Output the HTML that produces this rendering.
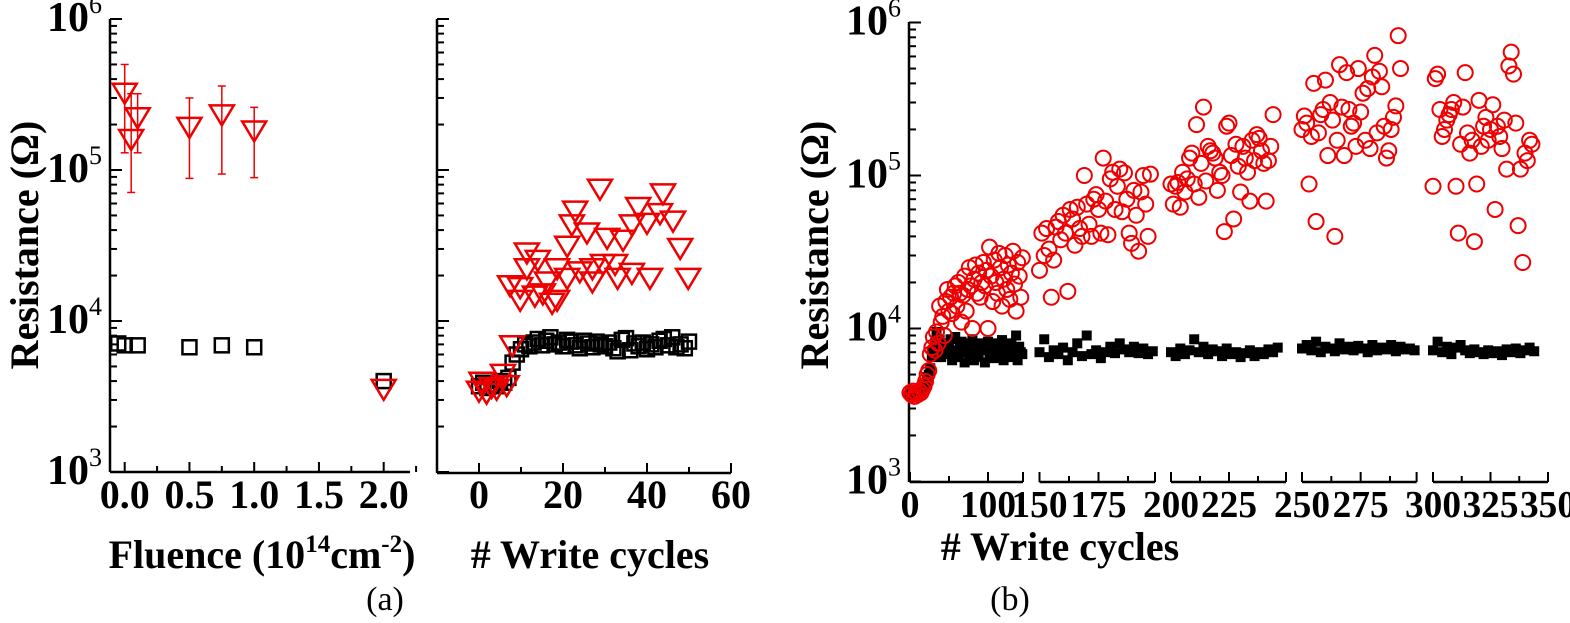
<!DOCTYPE html>
<html><head><meta charset="utf-8">
<style>
html,body{margin:0;padding:0;background:#fff;}
svg, svg text{font-family:"Liberation Serif","DejaVu Serif",serif;}
</style></head>
<body>
<svg id="fig" width="1570" height="618" viewBox="0 0 1570 618" xmlns="http://www.w3.org/2000/svg" font-family="Liberation Serif, serif">
<g id="layer" font-family="Liberation Serif, serif"></g>
</svg>
<script>
// ---- Panel (a) left: fluence data ----
const fluSqX = [-0.05, 0.0, 0.1, 0.5, 0.75, 1.0, 2.0];
const fluSqY = [7100, 6900, 6900, 6700, 6900, 6700, 4000];
const fluTriX = [0.0, 0.05, 0.1, 0.5, 0.75, 1.0, 2.0];
const fluTriY = [320000, 158000, 220000, 190000, 230000, 180000, 3500];
const fluErrHi = [500000, 320000, 320000, 300000, 360000, 260000, 3500];
const fluErrLo = [130000, 71000, 130000, 88000, 94000, 89000, 3500];
const fluTicks = ["0.0", "0.5", "1.0", "1.5", "2.0"];
const fluTickVals = [0, 0.5, 1.0, 1.5, 2.0];

// ---- Panel (a) right: write cycles ----
const aSqVals = [3700,3900,3600,3800,3700,4000,3900,4200,5300,6000,6500,7000,6800,7200,7600,6900,7400,7800,7000,7200,6800,7500,7300,6900,6600,7400,7100,6700,7300,7000,6800,7200,6600,6300,7500,7700,6400,7100,6800,7200,6500,7000,6700,7400,7600,6900,7800,6700,7000,6600,7300];
const aTriX = [28.8,43.8,22.9,37.9,43.1,46.2,22.1,25.7,36.4,40,30.5,34.3,21,47.9,11.4,14,11.4,18.6,24,27,29.5,32.4,36.4,40.7,49.8,33,27,21,7.4,9.8,16.2,13.3,9.8,18.6,17.4,15.2,7.9,5.7,0.6,1.8,4.2,6.6,0,3];
const aTriY = [74000,69000,53000,56000,51000,45500,43000,38000,43000,44000,35000,34000,31000,30000,28000,25000,22000,22000,21000,22000,23500,23500,20500,19000,19000,19000,18000,19000,17000,16500,18000,14500,13600,13600,13000,15000,6800,4400,3900,3300,3500,3700,3400,3600];
const aTicks = ["0","20","40","60"];
const aTickVals = [0,20,40,60];

// ---- Panel (b) ----
const bCircX = [0,2,4,6,8,10,12,14,16,18,20,22,24,26,28,
30,32,34,36,38,40,42,44,46,48,50,52,54,56,58,60,62,64,66,68,70,72,74,76,78,80,
82,84,86,88,90,92,94,96,98,100,102,104,106,108,110,112,114,116,118,120,122,124,126,128,130,132,134,136,138,140,142,144,
150,151,152,153,154,155,156,157,158,159,160,161,162,163,164,165,166,167,168,169,170,171,172,173,174,175,176,177,178,179,180,181,182,183,184,185,186,187,188,189,190,191,192,193,194,195,196,197,
200,201,202,203,204,205,206,207,208,209,210,211,212,213,214,215,216,217,218,219,220,221,222,223,224,225,226,227,228,229,230,231,232,233,234,235,236,237,238,239,240,241,242,243,244,
250,251,252,253,254,255,256,257,258,259,260,261,262,263,264,265,266,267,268,269,270,271,272,273,274,275,276,277,278,279,280,281,282,283,284,285,286,287,288,289,290,291,292,
300,301,302,303,304,305,306,307,308,309,310,311,312,313,314,315,316,317,318,319,320,321,322,323,324,325,326,327,328,329,330,331,332,333,334,335,336,337,338,339,340,341,342,343];
const bCircY = [3800,3700,3900,3600,3800,3700,3900,3800,4000,4200,4500,5000,5300,6800,7500,
8800,7200,9500,8000,14000,11000,12000,9000,15000,18000,13000,16000,12500,17000,19000,14000,20000,17000,11000,16500,22000,13000,18000,25000,19000,10000,
21000,26000,17000,23000,16000,20000,27000,19000,24000,10000,34000,22000,15000,28000,20000,17000,31000,25000,14000,21000,30000,18000,26000,15500,23000,32000,19500,13000,27000,22000,16000,29000,
24000,42000,30000,45000,33000,16000,28000,46000,50000,38000,55000,42000,17500,60000,52000,35000,62000,45000,40000,100000,65000,48000,40000,70000,75000,60000,42000,130000,68000,41000,95000,105000,60000,85000,110000,58000,104000,70000,42000,36000,80000,55000,32000,78000,100000,65000,40000,102000,
88000,65000,85000,90000,62000,105000,78000,95000,130000,140000,88000,215000,72000,120000,280000,92000,155000,145000,140000,130000,80000,105000,100000,43000,210000,220000,135000,52000,160000,115000,78000,155000,130000,105000,68000,170000,125000,185000,175000,145000,120000,68000,125000,155000,250000,
200000,245000,220000,88000,180000,400000,50000,190000,250000,270000,420000,135000,300000,230000,40000,170000,530000,280000,135000,470000,270000,210000,220000,155000,500000,260000,345000,170000,370000,150000,440000,610000,190000,480000,380000,210000,130000,145000,200000,240000,285000,820000,500000,
85000,430000,460000,270000,180000,200000,230000,250000,270000,300000,85000,42000,160000,280000,470000,190000,140000,170000,37000,88000,310000,155000,210000,240000,170000,200000,290000,60000,210000,180000,150000,230000,110000,520000,640000,460000,220000,47000,110000,27000,140000,125000,170000,160000];
const bSqStart = [0,150,200,250,300];
const bSqVals = [
[3800,3700,3900,3800,3700,3800,3900,3800,4000,4200,4400,4800,5000,5500,6500,7200,8000,9500,7000,8500,6500,7800,8000,7000,6800,7500,8500,6200,7000,8800,7200,6500,7800,8200,7000,6000,7500,8000,6800,7200,8500,6200,7800,7000,6500,8000,7200,7600,6000,7400,8200,6800,7000,7800,6400,8000,7200,6600,7500,8400,6200,7000,7800,6800,7300,8000,6500,7200,9000,6200,7600,7000,6800],
[7000,8500,6500,7200,6800,7500,6200,7000,8000,6600,9000,6800,7200,6400,7000,7600,6900,8000,7300,7000,7600,6900,7400,6800,7100],
[7000,6600,7400,6800,7200,8500,7000,7600,6800,7300,7100,6600,7400,6800,7000,6500,6900,7200,6600,7000,6800,7300,7000,7500],
[7400,7800,7200,8200,7000,7600,7400,7100,8000,7300,7600,7200,7700,7400,7000,7800,7200,7500,7300,7800,7100,7600,7300,7400,7200],
[7200,8200,7000,7600,6800,7500,7800,7200,6900,7300,7000,6800,7200,6900,7100,6700,7300,7000,7400,6900,7200,7500,7100]];
const bTickLabels = ["0","100","150","175","200","225","250","275","300","325","350"];
const bTickVals = [0,100,150,175,200,225,250,275,300,325,350];

const NS = "http://www.w3.org/2000/svg";
const FONT = '"Liberation Serif", "DejaVu Serif", serif';
const layer = document.getElementById('layer');
function mk(tag, attrs, parent, txt){
  const e = document.createElementNS(NS, tag);
  for (const k in attrs) e.setAttribute(k, attrs[k]);
  if (tag === 'text') e.style.fontFamily = FONT;
  if (txt !== undefined) e.textContent = txt;
  (parent||layer).appendChild(e);
  return e;
}
function yA(v){ return 472 - (Math.log10(v) - 3) * 151; }
function yB(v){ return 481.5 - (Math.log10(v) - 3) * 153; }
function xFlu(f){ return 124.7 + f * 129.5; }
function xCyc(c){ return 479 + c * 4.2; }
const segs = [
  {a:0, b:145, x0:910, x1:1023, sc:0.78, majors:[0,100], minors:[50]},
  {a:150, b:199, x0:1039.5, x1:1155, sc:2.36, majors:[150,175], minors:[162.5,187.5]},
  {a:200, b:249, x0:1171, x1:1286, sc:2.32, majors:[200,225], minors:[212.5,237.5]},
  {a:250, b:299, x0:1302, x1:1416.6, sc:2.346, majors:[250,275], minors:[262.5,287.5]},
  {a:300, b:350, x0:1433, x1:1548, sc:2.3, majors:[300,325,350], minors:[312.5,337.5]}
];
function xB(c){
  for (const s of segs){ if (c <= s.b + 0.5) return s.x0 + (c - s.a) * s.sc; }
  return segs[4].x0 + (c - 300) * 2.3;
}

function logYAxis(g, x, yfn, top, bottom, labels){
  mk('line',{x1:x,y1:top,x2:x,y2:bottom,stroke:'#000','stroke-width':2.5},g);
  for (let d=3; d<=6; d++){
    for (let m=1; m<=9; m++){
      if (d===6 && m>1) break;
      const v = m*Math.pow(10,d);
      const y = yfn(v);
      mk('line',{x1:x,y1:y,x2:x+(m===1?12:7),y2:y,stroke:'#000','stroke-width':2},g);
    }
    if (labels){
      const y = yfn(Math.pow(10,d));
      const t = mk('text',{x:x-8,y:y+12,'text-anchor':'end','font-size':42,'font-weight':'bold'},g);
      
      
      mk('tspan',{},t,'10');
      mk('tspan',{dy:-18,'font-size':26,'font-weight':'normal'},t,String(d));
    }
  }
}
function ylabel(g, x, y){
  const t = mk('text',{x:x,y:y,'text-anchor':'middle','font-size':40,'font-weight':'bold',transform:`rotate(-90 ${x} ${y})`},g,'Resistance (Ω)');
  
  
}
function tri(g, cx, cy, color){
  const w=12, h=10;
  return mk('polygon',{points:`${cx-w},${cy-h} ${cx+w},${cy-h} ${cx},${cy+h}`,fill:'none',stroke:color,'stroke-width':2.5},g);
}

// ===== Panel a-left =====
const gA1 = mk('g',{});


logYAxis(gA1, 110, yA, 19, 472, true);
mk('line',{x1:110,y1:472,x2:410,y2:472,stroke:'#000','stroke-width':2.5},gA1);
for (let i=0;i<=9;i++){
  const x = xFlu(i*0.25);
  mk('line',{x1:x,y1:472,x2:x,y2:472-(i%2===0?10:6),stroke:'#000','stroke-width':2},gA1);
}
fluTickVals.forEach((v,i)=>{
  const t = mk('text',{x:xFlu(v),y:508,'text-anchor':'middle','font-size':40,'font-weight':'bold'},gA1,fluTicks[i]);
  
  
});
ylabel(gA1, 38, 245);
{
  const t = mk('text',{x:262,y:568,'text-anchor':'middle','font-size':40,'font-weight':'bold'},gA1);
  
  
  mk('tspan',{},t,'Fluence (10');
  mk('tspan',{dy:-16,'font-size':25},t,'14');
  mk('tspan',{dy:16},t,'cm');
  mk('tspan',{dy:-16,'font-size':25},t,'-2');
  mk('tspan',{dy:16},t,')');
}
fluErrHi.forEach((hi,i)=>{
  const x = xFlu(fluTriX[i]);
  if (hi === fluErrLo[i]) return;
  const eb = mk('g',{stroke:'#e00','stroke-width':1.5},gA1);
  
  
  mk('line',{x1:x,y1:yA(hi),x2:x,y2:yA(fluErrLo[i])},eb);
  mk('line',{x1:x-4,y1:yA(hi),x2:x+4,y2:yA(hi)},eb);
  mk('line',{x1:x-4,y1:yA(fluErrLo[i]),x2:x+4,y2:yA(fluErrLo[i])},eb);
});
fluSqX.forEach((f,i)=>{
  const r = mk('rect',{x:xFlu(f)-7,y:yA(fluSqY[i])-7,width:14,height:14,fill:'none',stroke:'#000','stroke-width':2.5},gA1);
  
  
});
fluTriX.forEach((f,i)=>{
  const p = tri(gA1, xFlu(f), yA(fluTriY[i]), '#e00');
  
  
});

// ===== Panel a-right =====
const gA2 = mk('g',{});


logYAxis(gA2, 437, yA, 19, 473, false);
mk('line',{x1:437,y1:473,x2:731,y2:473,stroke:'#000','stroke-width':2.5},gA2);
for (let c=0;c<=60;c+=10){
  const x = xCyc(c);
  mk('line',{x1:x,y1:473,x2:x,y2:473-(c%20===0?10:6),stroke:'#000','stroke-width':2},gA2);
}
aTickVals.forEach((v,i)=>{
  const t = mk('text',{x:xCyc(v),y:508,'text-anchor':'middle','font-size':40,'font-weight':'bold'},gA2,aTicks[i]);
  
  
});
{
  const t = mk('text',{x:590,y:568,'text-anchor':'middle','font-size':40,'font-weight':'bold'},gA2,'# Write cycles');
  
  
}
aSqVals.forEach((v,i)=>{
  const r = mk('rect',{x:xCyc(i)-7,y:yA(v)-7,width:14,height:14,fill:'none',stroke:'#000','stroke-width':2.5},gA2);
  
  
});
aTriX.forEach((c,i)=>{
  const p = tri(gA2, xCyc(c), yA(aTriY[i]), '#e00');
  
  
});
{
  const t = mk('text',{x:385,y:610,'text-anchor':'middle','font-size':34},layer,'(a)');
  
  
}

// ===== Panel b =====
const gB = mk('g',{});


logYAxis(gB, 909, yB, 22, 482, true);
ylabel(gB, 828, 245);
segs.forEach(s=>{
  mk('line',{x1:s.x0,y1:482,x2:s.x1,y2:482,stroke:'#000','stroke-width':2.5},gB);
  mk('line',{x1:s.x0,y1:482,x2:s.x0,y2:472,stroke:'#000','stroke-width':2},gB);
  s.majors.forEach(c=>{ const x=s.x0+(c-s.a)*s.sc; mk('line',{x1:x,y1:482,x2:x,y2:472,stroke:'#000','stroke-width':2},gB); });
  s.minors.forEach(c=>{ const x=s.x0+(c-s.a)*s.sc; mk('line',{x1:x,y1:482,x2:x,y2:476,stroke:'#000','stroke-width':2},gB); });
  mk('line',{x1:s.x1,y1:482,x2:s.x1,y2:472,stroke:'#000','stroke-width':2},gB);
});
bTickVals.forEach((v,i)=>{
  const x = (v===350) ? 1548 : xB(v);
  const t = mk('text',{x:x,y:517,'text-anchor':'middle','font-size':38,'font-weight':'bold'},gB,bTickLabels[i]);
  if (bTickLabels[i].length===3){ t.setAttribute('textLength','56'); t.setAttribute('lengthAdjust','spacingAndGlyphs'); }
  
  
});
{
  const t = mk('text',{x:1060,y:560,'text-anchor':'middle','font-size':40,'font-weight':'bold'},gB,'# Write cycles');
  
  
}
bSqStart.forEach((st,si)=>{
  bSqVals[si].forEach((v,i)=>{
    const c = st + i*2;
    const r = mk('rect',{x:xB(c)-5,y:yB(v)-5,width:10,height:10,fill:'#000'},gB);
    
    
  });
});
bCircX.forEach((c,i)=>{
  const e = mk('circle',{cx:xB(c),cy:yB(bCircY[i]),r:7.5,fill:'none',stroke:'#e00','stroke-width':2},gB);
  
  
});
{
  const t = mk('text',{x:1010,y:610,'text-anchor':'middle','font-size':34},layer,'(b)');
  
  
}
</script>
</body></html>
